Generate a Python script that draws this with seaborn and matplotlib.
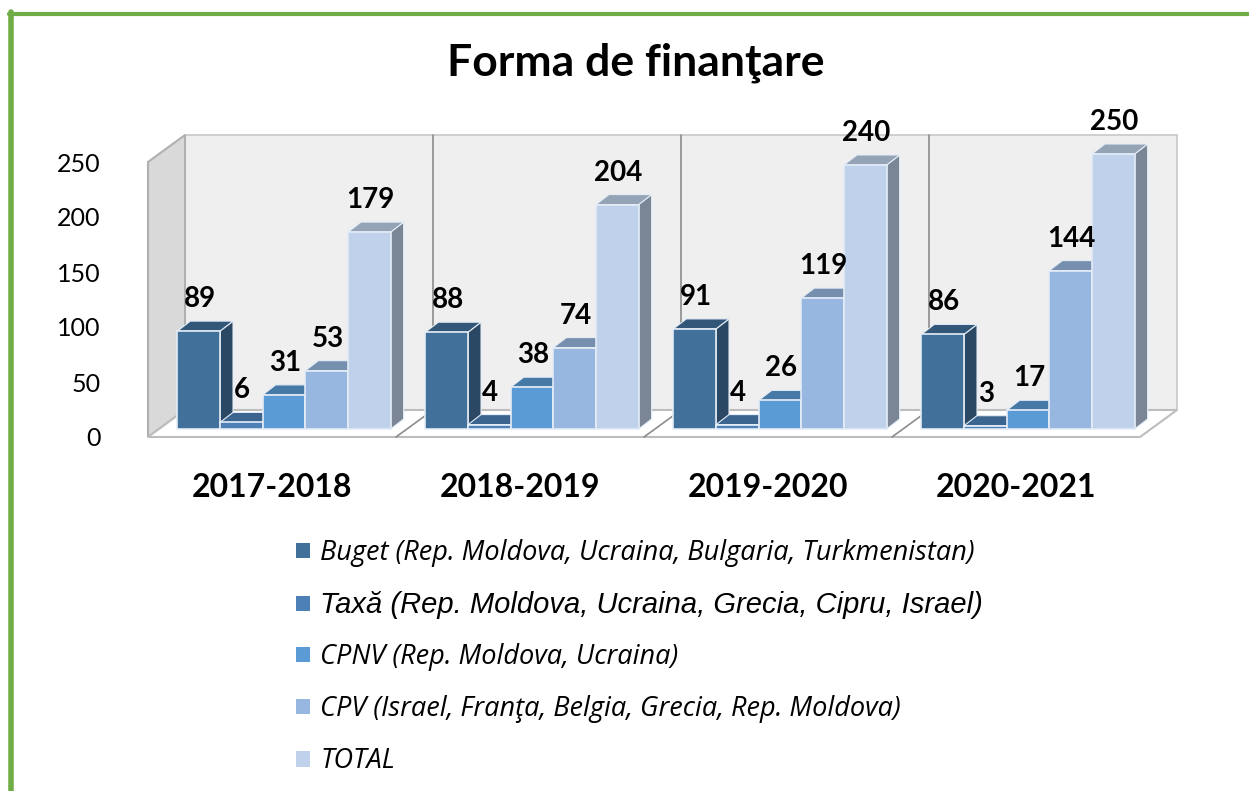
import numpy as np
import pandas as pd
import seaborn as sns
import matplotlib.pyplot as plt
from matplotlib.patches import Polygon, Patch
from matplotlib.lines import Line2D
from matplotlib.transforms import ScaledTranslation
from matplotlib.colors import to_rgb

# data
years = ["2017-2018", "2018-2019", "2019-2020", "2020-2021"]
series = ["Buget (Rep. Moldova, Ucraina, Bulgaria, Turkmenistan)",
          "Taxă (Rep. Moldova, Ucraina, Grecia, Cipru, Israel)",
          "CPNV (Rep. Moldova, Ucraina)",
          "CPV (Israel, Franţa, Belgia, Grecia, Rep. Moldova)",
          "TOTAL"]
buget = [89, 88, 91, 86]
taxa = [6, 4, 4, 3]
cpnv = [31, 38, 26, 17]
cpv = [53, 74, 119, 144]
total = [179, 204, 240, 250]
yticks = [0, 50, 100, 150, 200, 250]
colors = ["#41709B", "#4C80B6", "#5B9BD5", "#97B7E0", "#BFD1EB"]

df = pd.DataFrame({
    "An": years * 5,
    "Serie": np.repeat(series, 4),
    "Valoare": buget + taxa + cpnv + cpv + total,
})

sns.set_style("white")
plt.rcParams["font.family"] = ["Lato", "DejaVu Sans"]
plt.rcParams["text.color"] = "black"
plt.rcParams["xtick.color"] = "black"
plt.rcParams["ytick.color"] = "black"

W, H = 1249, 791
fig = plt.figure(figsize=(W / 100, H / 100), dpi=100)
ax = fig.add_axes([160 / W, (H - 429) / H, 992 / W, 275 / H])

sns.barplot(df, x="An", y="Valoare", hue="Serie", hue_order=series,
            palette=colors, width=0.86, legend=False, ax=ax,
            edgecolor="#e4ecf6", linewidth=1.2, saturation=1)
ax.set_xlim(-0.5, 3.5)
ax.set_ylim(0, 250)
ax.patch.set_alpha(0)
for s in ax.spines.values():
    s.set_visible(False)

# pixel -> data scale
p0 = ax.transData.transform((0, 0))
p1 = ax.transData.transform((1, 1))
ppx, ppy = p1[0] - p0[0], p1[1] - p0[1]


def sh(x, y, dx, dy):
    return (x + dx / ppx, y + dy / ppy)


# walls and floor (front plane -12,-8 px ; back plane +25,+19 px)
F = (-12, -8)
B = (25, 19)
x0, x1, top = -0.5, 3.5, 250
back = Polygon([sh(x0, 0, *B), sh(x1, 0, *B), sh(x1, top, *B), sh(x0, top, *B)],
               closed=True, fc="#efefef", ec="#c8c8c8", lw=1.2, zorder=0.5, clip_on=False)
left = Polygon([sh(x0, 0, *F), sh(x0, 0, *B), sh(x0, top, *B), sh(x0, top, *F)],
               closed=True, fc="#d9d9d9", ec="#b0b0b0", lw=1.5, zorder=0.6, clip_on=False)
floor = Polygon([sh(x0, 0, *F), sh(x1, 0, *F), sh(x1, 0, *B), sh(x0, 0, *B)],
                closed=True, fc="white", ec="#bdbdbd", lw=1.5, zorder=0.7, clip_on=False)
for p in (back, left, floor):
    ax.add_patch(p)
for g in [0.5, 1.5, 2.5]:
    ax.add_line(Line2D(*zip(sh(g, top, *B), sh(g, 0, *B), sh(g, 0, *F)),
                       color="#8c8c8c", lw=1.2, zorder=0.8, clip_on=False))

# 3d faces on bars
bars = sorted([p for p in ax.patches if p not in (back, left, floor)], key=lambda p: p.get_x())
D = (13, 10)


def shade(c, f):
    return tuple(v * f for v in to_rgb(c))


for k, b in enumerate(bars):
    bx, bw, bh = b.get_x(), b.get_width(), b.get_height()
    fc = b.get_facecolor()
    side = Polygon([(bx + bw, 0), sh(bx + bw, 0, *D), sh(bx + bw, bh, *D), (bx + bw, bh)],
                   closed=True, fc=shade(fc, 0.64), ec="#e4ecf6", lw=0.8,
                   zorder=2 + 2 * k, clip_on=False)
    tp = Polygon([(bx, bh), (bx + bw, bh), sh(bx + bw, bh, *D), sh(bx, bh, *D)],
                 closed=True, fc=shade(fc, 0.78), ec="#e4ecf6", lw=0.8,
                 zorder=2 + 2 * k, clip_on=False)
    ax.add_patch(side)
    ax.add_patch(tp)
    b.set_zorder(3 + 2 * k)
    b.set_clip_on(False)
    lx, ly = sh(bx + bw / 2, bh, 1, D[1] + 9)
    ax.text(lx, ly, f"{bh:.0f}", ha="center", va="bottom", fontsize=20,
            fontweight="bold", color="black", zorder=100, clip_on=False)

# ticks (shifted onto the front plane)
ax.set_yticks(yticks)
ax.set_yticklabels([str(t) for t in yticks])
ax.tick_params(axis="y", length=0, pad=43, labelsize=18)
ax.tick_params(axis="x", length=0, pad=32)
ax.set_xticks(range(len(years)))
ax.set_xticklabels(years, fontsize=23, fontweight="bold")
ax.set_xlabel("")
ax.set_ylabel("")
for t in ax.yaxis.get_major_ticks():
    t.label1.set_transform(t.label1.get_transform() + ScaledTranslation(0, -0.08, fig.dpi_scale_trans))
for t in ax.xaxis.get_major_ticks():
    t.label1.set_transform(t.label1.get_transform() + ScaledTranslation(-0.12, 0, fig.dpi_scale_trans))

fig.text(636 / W, 1 - 63 / H, "Forma de finanţare", ha="center", va="center",
         fontsize=32, fontweight="bold", color="black")

# legend
handles = [Patch(facecolor=c, edgecolor="none") for c in colors]
leg = fig.legend(handles, series, loc="upper left", bbox_to_anchor=(296 / W, 1 - 539 / H),
                 frameon=False,
                 prop={"family": ["Open Sans", "DejaVu Sans"], "style": "italic", "size": 19.5},
                 handlelength=0.5, handleheight=0.5, handletextpad=0.4,
                 labelspacing=0.89, borderpad=0, borderaxespad=0)
leg.get_texts()[1].set_fontfamily(["Liberation Sans", "DejaVu Sans"])
leg.get_texts()[1].set_fontsize(21)

# green frame
fig.add_artist(Line2D([11 / W, 11 / W], [0, 1 - 12 / H], color="#70AD47", lw=4,
                      transform=fig.transFigure))
fig.add_artist(Line2D([9 / W, 1], [1 - 14 / H, 1 - 14 / H], color="#70AD47", lw=3,
                      transform=fig.transFigure))

fig.savefig("out.png", dpi=100, facecolor="white")
